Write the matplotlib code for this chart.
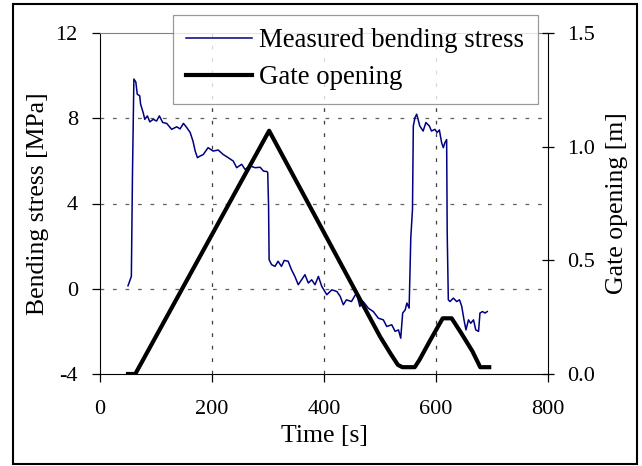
import numpy as np
import matplotlib.pyplot as plt
from matplotlib.patches import Rectangle

# tempo [s] e tensao medida [MPa]
t_stress = [50, 56, 58, 60.5, 64, 66.5, 71, 72.5, 77, 80, 84.5, 89, 95, 101, 106, 112, 119, 128,
            137, 143, 149, 155, 161, 166, 170, 174, 179, 184.5, 193, 202, 211, 220, 229, 238, 244,
            253, 259, 268, 277, 286, 292, 298, 299.5, 301, 302, 306.5, 312.5, 318, 324, 329, 336,
            342, 348, 354, 360, 366, 372, 378, 384, 390, 396, 405, 414, 423, 429, 434.5, 440, 449,
            458, 464, 470, 479, 488, 497, 506, 512, 521, 527, 533, 537, 540.5, 545, 548, 552, 555,
            558, 559.5, 562.5, 565.5, 568, 571, 577, 582, 588, 592, 598, 602, 606, 610, 613, 616,
            619, 620, 622, 625, 631, 637, 642, 646, 650, 653.5, 658, 662, 667, 671, 676, 678.5,
            683, 687.5, 691.5]
stress = [0.14, 0.58, 5.4, 9.84, 9.7, 9.13, 9.05, 8.66, 8.27, 7.95, 8.11, 7.83, 7.95, 7.87, 8.11,
          7.8, 7.76, 7.48, 7.6, 7.5, 7.76, 7.56, 7.33, 6.93, 6.46, 6.15, 6.23, 6.3, 6.62, 6.46,
          6.51, 6.3, 6.15, 5.99, 5.68, 5.84, 5.6, 5.76, 5.68, 5.7, 5.52, 5.5, 5.45, 3.9, 1.36,
          1.13, 1.05, 1.29, 1.05, 1.33, 1.29, 0.89, 0.58, 0.19, 0.42, 0.66, 0.27, 0.42, 0.19,
          0.58, 0.11, -0.28, -0.05, -0.13, -0.36, -0.75, -0.52, -0.6, -0.2, -0.83, -0.6, -0.91,
          -1.07, -1.38, -1.46, -1.77, -1.69, -2.0, -1.93, -2.32, -1.14, -0.99, -0.67, -0.91,
          2.4, 3.72, 7.64, 8.03, 8.19, 7.95, 7.64, 7.4, 7.8, 7.64, 7.4, 7.48, 7.33, 7.45, 6.86,
          6.62, 6.86, 7.0, 2.62, -0.52, -0.6, -0.44, -0.6, -0.52, -0.83, -1.46, -1.93, -1.46,
          -1.62, -1.46, -1.93, -2.0, -1.14, -1.07, -1.14, -1.07]

# abertura da comporta [m]
t_gate = [50, 63, 302, 500, 520, 532, 540, 562, 570, 590, 612, 628, 645, 665, 679, 695]
gate = [0, 0, 1.07, 0.165, 0.085, 0.04, 0.03, 0.03, 0.06, 0.15, 0.245, 0.245, 0.18, 0.10, 0.03, 0.03]

plt.rcParams['font.family'] = ['Liberation Serif', 'DejaVu Serif']
plt.rcParams['axes.unicode_minus'] = False

fig = plt.figure(figsize=(6.42, 4.66), dpi=100)
ax = fig.add_axes([100/642, 92/466, 448/642, 341/466])
ax2 = ax.twinx()

# grade tracejada
for yv in [0, 4, 8]:
    ax.axhline(yv, color='#606060', lw=0.9, ls=(0, (3, 7)), zorder=0)
for xv in [200, 400, 600]:
    ax.axvline(xv, color='#404040', lw=0.9, ls=(0, (3, 7)), zorder=0)

l1, = ax.plot(t_stress, stress, color='#000080', lw=1.1, label='Measured bending stress')
l2, = ax2.plot(t_gate, gate, color='black', lw=3.0, label='Gate opening')

ax.set_xlim(0, 800)
ax.set_ylim(-4, 12)
ax.set_xticks([0, 200, 400, 600, 800])
ax.set_yticks([-4, 0, 4, 8, 12])
ax2.set_ylim(0, 1.5)
ax2.set_yticks([0, 0.5, 1.0, 1.5])
ax2.set_yticklabels(['0.0', '0.5', '1.0', '1.5'])

ax.tick_params(axis='both', direction='out', length=6, width=0.9, labelsize=16, pad=10)
ax.tick_params(axis='x', pad=13)
ax2.tick_params(axis='y', direction='inout', length=9, width=0.9, labelsize=16, pad=9)

ax.spines['top'].set_color('#808080')
ax.spines['right'].set_visible(False)
for sp in ['top', 'left', 'bottom']:
    ax2.spines[sp].set_visible(False)

ax.set_xlabel('Time [s]', fontsize=18.5, labelpad=4)
ax.set_ylabel('Bending stress [MPa]', fontsize=18.5, labelpad=5)
ax2.set_ylabel('Gate opening [m]', fontsize=18.5, labelpad=8)

leg = ax2.legend(handles=[l1, l2], loc='upper left', bbox_to_anchor=(173/642, 1 - 15/466),
                 bbox_transform=fig.transFigure, fontsize=19.4, frameon=True, fancybox=False,
                 borderaxespad=0, borderpad=0.5, handlelength=2.45, handletextpad=0.25,
                 labelspacing=0.44)
leg.get_frame().set_edgecolor('#808080')
leg.get_frame().set_linewidth(0.9)

# moldura externa
fig.patches.append(Rectangle((13/642, 2/466), 624/642, 460/466, transform=fig.transFigure,
                             fill=False, edgecolor='black', lw=1.5))

fig.savefig('out.png', dpi=100)
print('done')
